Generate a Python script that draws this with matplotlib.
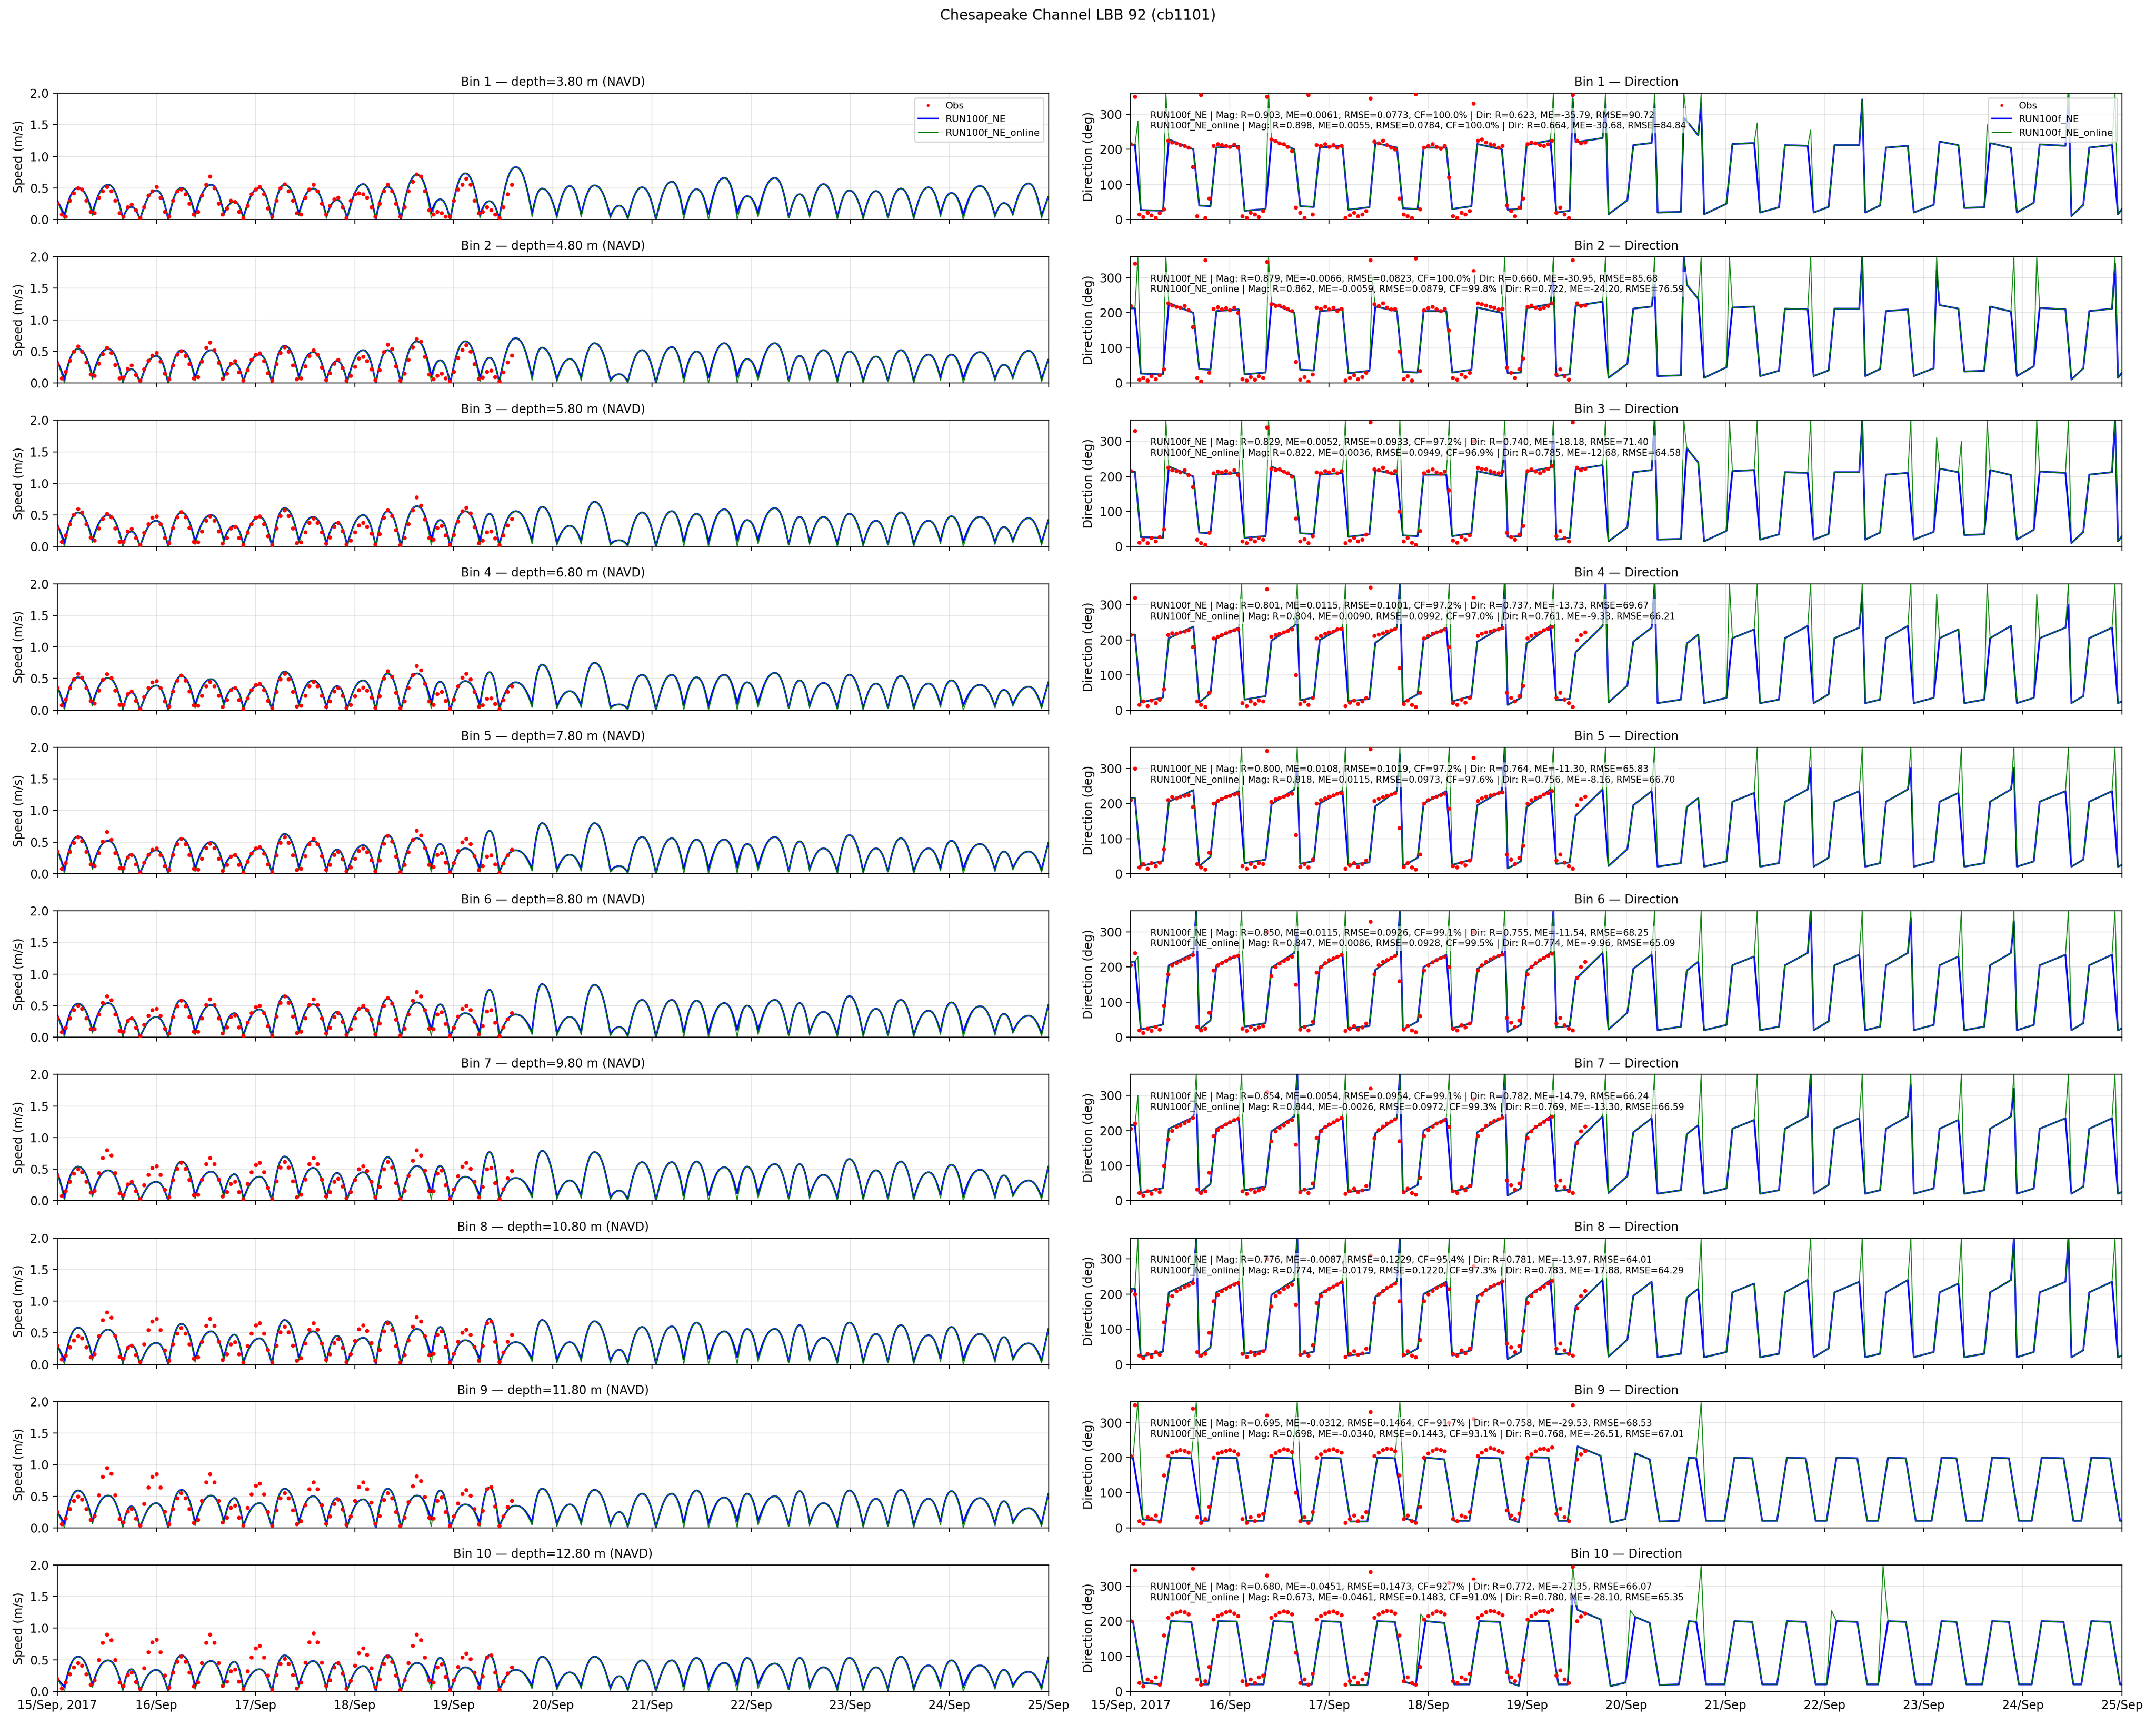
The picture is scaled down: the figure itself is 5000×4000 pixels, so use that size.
import numpy as np
import matplotlib.pyplot as plt
import matplotlib.dates as mdates
from matplotlib.path import Path
from matplotlib.patches import PathPatch
from matplotlib.lines import Line2D
from datetime import datetime

# ---------------- data ----------------
t0 = mdates.date2num(datetime(2017, 9, 15))

# slack-water times (speed minima / direction flips), days after 15 Sep 00:00
slack_day = [0.072, 0.354, 0.661, 0.834, 1.119, 1.390, 1.680, 1.877, 2.166, 2.437,
             2.715, 2.924, 3.213, 3.466, 3.773, 3.964, 4.264, 4.458, 4.790, 5.040,
             5.285, 5.580, 5.755, 6.040, 6.320, 6.570, 6.860, 7.070, 7.380, 7.590,
             7.870, 8.130, 8.380, 8.640, 8.910, 9.140, 9.460, 9.640, 9.930]
# times of the speed maxima
peak_day = [0.209, 0.513, 0.747, 1.000, 1.253, 1.552, 1.787, 2.040, 2.292, 2.581,
            2.823, 3.087, 3.332, 3.628, 3.863, 4.116, 4.361, 4.625, 4.890, 5.170,
            5.420, 5.670, 5.900, 6.200, 6.450, 6.730, 6.960, 7.240, 7.490, 7.730,
            7.990, 8.260, 8.510, 8.790, 9.020, 9.310, 9.550, 9.800]

depths = [3.80, 4.80, 5.80, 6.80, 7.80, 8.80, 9.80, 10.80, 11.80, 12.80]

# model speed peaks (m/s), one per peak_day, per bin
spd_peak = [
    [0.50, 0.55, 0.20, 0.46, 0.50, 0.55, 0.28, 0.50, 0.55, 0.49, 0.31, 0.56, 0.52, 0.71, 0.32, 0.73, 0.29,
     0.83, 0.49, 0.53, 0.54, 0.22, 0.51, 0.60, 0.48, 0.66, 0.37, 0.66, 0.40, 0.56, 0.46, 0.45, 0.49, 0.51, 0.42, 0.53, 0.26, 0.57],
    [0.54, 0.54, 0.22, 0.43, 0.52, 0.52, 0.31, 0.45, 0.59, 0.49, 0.35, 0.52, 0.52, 0.66, 0.36, 0.66, 0.40,
     0.71, 0.56, 0.38, 0.63, 0.14, 0.52, 0.57, 0.50, 0.63, 0.38, 0.63, 0.43, 0.52, 0.50, 0.42, 0.52, 0.45, 0.45, 0.49, 0.29, 0.51],
    [0.54, 0.50, 0.24, 0.41, 0.54, 0.50, 0.33, 0.47, 0.61, 0.47, 0.38, 0.50, 0.56, 0.64, 0.42, 0.56, 0.52,
     0.56, 0.63, 0.33, 0.71, 0.10, 0.54, 0.56, 0.52, 0.59, 0.42, 0.61, 0.47, 0.47, 0.52, 0.41, 0.54, 0.41, 0.48, 0.47, 0.31, 0.45],
    [0.52, 0.51, 0.28, 0.39, 0.54, 0.49, 0.35, 0.40, 0.61, 0.47, 0.38, 0.47, 0.58, 0.58, 0.45, 0.46, 0.60,
     0.44, 0.72, 0.30, 0.75, 0.09, 0.56, 0.56, 0.52, 0.56, 0.44, 0.59, 0.47, 0.43, 0.56, 0.42, 0.54, 0.42, 0.47, 0.40, 0.32, 0.37],
    [0.59, 0.52, 0.31, 0.37, 0.56, 0.50, 0.29, 0.40, 0.63, 0.52, 0.38, 0.45, 0.61, 0.56, 0.47, 0.40, 0.68,
     0.37, 0.80, 0.30, 0.80, 0.12, 0.58, 0.56, 0.54, 0.54, 0.47, 0.58, 0.51, 0.40, 0.61, 0.40, 0.56, 0.40, 0.52, 0.47, 0.35, 0.35],
    [0.53, 0.54, 0.30, 0.32, 0.59, 0.51, 0.38, 0.44, 0.66, 0.52, 0.40, 0.47, 0.61, 0.55, 0.52, 0.38, 0.75,
     0.36, 0.84, 0.32, 0.83, 0.16, 0.59, 0.59, 0.58, 0.54, 0.50, 0.59, 0.54, 0.40, 0.65, 0.45, 0.59, 0.42, 0.55, 0.49, 0.37, 0.34],
    [0.54, 0.48, 0.27, 0.30, 0.62, 0.46, 0.42, 0.38, 0.70, 0.52, 0.44, 0.45, 0.69, 0.55, 0.55, 0.38, 0.77,
     0.36, 0.79, 0.32, 0.77, 0.16, 0.61, 0.61, 0.62, 0.53, 0.54, 0.58, 0.58, 0.41, 0.66, 0.48, 0.62, 0.45, 0.57, 0.49, 0.40, 0.32],
    [0.58, 0.55, 0.30, 0.34, 0.64, 0.52, 0.47, 0.41, 0.70, 0.52, 0.45, 0.42, 0.68, 0.56, 0.59, 0.38, 0.72,
     0.35, 0.70, 0.35, 0.68, 0.23, 0.59, 0.60, 0.66, 0.52, 0.56, 0.56, 0.62, 0.42, 0.66, 0.48, 0.62, 0.46, 0.59, 0.48, 0.43, 0.33],
    [0.59, 0.51, 0.34, 0.39, 0.60, 0.51, 0.47, 0.39, 0.62, 0.50, 0.47, 0.45, 0.62, 0.51, 0.59, 0.37, 0.64,
     0.35, 0.62, 0.37, 0.60, 0.25, 0.54, 0.54, 0.59, 0.48, 0.54, 0.50, 0.58, 0.39, 0.59, 0.46, 0.60, 0.46, 0.58, 0.47, 0.42, 0.31],
    [0.55, 0.49, 0.35, 0.34, 0.57, 0.48, 0.47, 0.35, 0.57, 0.48, 0.45, 0.40, 0.57, 0.45, 0.53, 0.38, 0.57,
     0.34, 0.55, 0.30, 0.55, 0.24, 0.49, 0.49, 0.53, 0.45, 0.53, 0.44, 0.53, 0.38, 0.53, 0.38, 0.55, 0.41, 0.49, 0.41, 0.34, 0.31],
]
spd_first = [0.30, 0.35, 0.35, 0.38, 0.38, 0.35, 0.45, 0.30, 0.25, 0.20]
spd_last = [0.37, 0.38, 0.43, 0.45, 0.50, 0.52, 0.55, 0.57, 0.55, 0.55]
# speed at slack water
ne_slack_spd = [0.07, 0.11, 0.02, 0.00, 0.00, 0.08, 0.10, 0.03, 0.00, 0.10, 0.05, 0.02, 0.00, 0.00, 0.12,
                0.00, 0.08, 0.02, 0.09, 0.06, 0.08, 0.05, 0.02, 0.00, 0.07, 0.08, 0.11, 0.11, 0.03, 0.07,
                0.03, 0.03, 0.03, 0.03, 0.09, 0.08, 0.06, 0.09, 0.06]
online_slack_spd = [0.00, 0.06, 0.00, 0.00, 0.00, 0.03, 0.06, 0.00, 0.00, 0.06, 0.02, 0.00, 0.00, 0.00, 0.02,
                    0.00, 0.02, 0.00, 0.04, 0.02, 0.04, 0.02, 0.00, 0.00, 0.00, 0.00, 0.00, 0.04, 0.02, 0.04,
                    0.00, 0.00, 0.02, 0.00, 0.04, 0.00, 0.04, 0.06, 0.02]

# hourly observed speed (m/s) from 15 Sep 00:00 to 19 Sep 14:00
obs_spd = [
    [0.25, 0.08, 0.05, 0.30, 0.42, 0.50, 0.48, 0.30, 0.12, 0.10, 0.35, 0.45, 0.52, 0.45, 0.30, 0.10, 0.05, 0.20,
     0.24, 0.15, 0.03, 0.20, 0.38, 0.45, 0.52, 0.35, 0.12, 0.05, 0.30, 0.45, 0.48, 0.40, 0.25, 0.08, 0.12, 0.38,
     0.55, 0.68, 0.50, 0.25, 0.08, 0.18, 0.30, 0.28, 0.12, 0.03, 0.22, 0.40, 0.48, 0.52, 0.40, 0.18, 0.05, 0.30,
     0.50, 0.56, 0.45, 0.30, 0.10, 0.08, 0.35, 0.48, 0.55, 0.45, 0.25, 0.08, 0.22, 0.32, 0.35, 0.20, 0.03, 0.30,
     0.40, 0.42, 0.40, 0.35, 0.20, 0.05, 0.25, 0.45, 0.55, 0.45, 0.25, 0.05, 0.20, 0.45, 0.60, 0.72, 0.68, 0.45,
     0.15, 0.08, 0.12, 0.10, 0.05, 0.05, 0.30, 0.48, 0.55, 0.65, 0.55, 0.30, 0.10, 0.12, 0.20, 0.15, 0.08, 0.03,
     0.20, 0.40, 0.55],
    [0.30, 0.08, 0.18, 0.36, 0.50, 0.58, 0.50, 0.33, 0.14, 0.12, 0.31, 0.46, 0.56, 0.48, 0.29, 0.08, 0.09, 0.23,
     0.28, 0.13, 0.04, 0.22, 0.36, 0.44, 0.48, 0.34, 0.15, 0.06, 0.28, 0.45, 0.51, 0.43, 0.30, 0.08, 0.10, 0.34,
     0.56, 0.64, 0.52, 0.32, 0.07, 0.15, 0.31, 0.35, 0.17, 0.04, 0.21, 0.37, 0.45, 0.47, 0.35, 0.16, 0.04, 0.30,
     0.48, 0.57, 0.50, 0.28, 0.06, 0.08, 0.27, 0.43, 0.52, 0.45, 0.25, 0.05, 0.16, 0.31, 0.37, 0.24, 0.04, 0.12,
     0.26, 0.39, 0.42, 0.35, 0.22, 0.05, 0.21, 0.49, 0.61, 0.54, 0.27, 0.04, 0.15, 0.37, 0.57, 0.70, 0.66, 0.42,
     0.14, 0.06, 0.12, 0.15, 0.08, 0.03, 0.18, 0.40, 0.53, 0.60, 0.50, 0.30, 0.07, 0.09, 0.18, 0.20, 0.10, 0.03,
     0.17, 0.33, 0.44],
    [0.30, 0.08, 0.18, 0.36, 0.51, 0.60, 0.54, 0.36, 0.15, 0.10, 0.29, 0.44, 0.52, 0.47, 0.29, 0.08, 0.08, 0.24,
     0.28, 0.14, 0.03, 0.22, 0.36, 0.46, 0.48, 0.36, 0.14, 0.06, 0.30, 0.47, 0.55, 0.47, 0.30, 0.08, 0.07, 0.24,
     0.41, 0.48, 0.41, 0.24, 0.05, 0.14, 0.29, 0.32, 0.14, 0.03, 0.22, 0.36, 0.46, 0.48, 0.36, 0.17, 0.03, 0.29,
     0.49, 0.58, 0.49, 0.29, 0.06, 0.07, 0.23, 0.38, 0.45, 0.38, 0.23, 0.05, 0.15, 0.32, 0.38, 0.25, 0.04, 0.10,
     0.23, 0.34, 0.38, 0.32, 0.21, 0.04, 0.20, 0.46, 0.58, 0.49, 0.26, 0.03, 0.14, 0.36, 0.58, 0.78, 0.65, 0.43,
     0.14, 0.11, 0.30, 0.33, 0.18, 0.03, 0.19, 0.40, 0.56, 0.62, 0.53, 0.31, 0.06, 0.10, 0.23, 0.24, 0.13, 0.03,
     0.18, 0.34, 0.44],
    [0.35, 0.08, 0.17, 0.35, 0.49, 0.58, 0.52, 0.35, 0.15, 0.11, 0.31, 0.48, 0.57, 0.51, 0.31, 0.09, 0.09, 0.26,
     0.30, 0.15, 0.02, 0.21, 0.35, 0.44, 0.46, 0.35, 0.14, 0.06, 0.30, 0.47, 0.55, 0.47, 0.30, 0.08, 0.07, 0.23,
     0.38, 0.45, 0.38, 0.23, 0.05, 0.16, 0.32, 0.35, 0.16, 0.02, 0.19, 0.32, 0.40, 0.42, 0.32, 0.15, 0.03, 0.29,
     0.49, 0.58, 0.49, 0.29, 0.06, 0.07, 0.23, 0.38, 0.45, 0.38, 0.23, 0.05, 0.14, 0.30, 0.35, 0.23, 0.04, 0.09,
     0.22, 0.32, 0.36, 0.31, 0.20, 0.04, 0.22, 0.50, 0.62, 0.53, 0.28, 0.03, 0.14, 0.35, 0.56, 0.70, 0.63, 0.42,
     0.14, 0.09, 0.26, 0.29, 0.15, 0.02, 0.17, 0.38, 0.52, 0.58, 0.49, 0.29, 0.06, 0.08, 0.18, 0.19, 0.10, 0.02,
     0.16, 0.29, 0.38],
    [0.35, 0.08, 0.17, 0.35, 0.49, 0.58, 0.52, 0.35, 0.15, 0.12, 0.33, 0.51, 0.66, 0.54, 0.33, 0.09, 0.09, 0.26,
     0.30, 0.15, 0.02, 0.18, 0.30, 0.38, 0.40, 0.30, 0.12, 0.06, 0.30, 0.47, 0.55, 0.47, 0.30, 0.08, 0.07, 0.24,
     0.41, 0.48, 0.41, 0.24, 0.05, 0.14, 0.27, 0.30, 0.14, 0.02, 0.19, 0.32, 0.40, 0.42, 0.32, 0.15, 0.03, 0.29,
     0.49, 0.58, 0.49, 0.29, 0.06, 0.08, 0.28, 0.47, 0.55, 0.47, 0.28, 0.06, 0.14, 0.30, 0.35, 0.23, 0.04, 0.10,
     0.24, 0.36, 0.40, 0.34, 0.22, 0.04, 0.21, 0.48, 0.60, 0.51, 0.27, 0.03, 0.14, 0.34, 0.54, 0.68, 0.61, 0.41,
     0.14, 0.11, 0.30, 0.33, 0.18, 0.02, 0.17, 0.36, 0.50, 0.55, 0.47, 0.28, 0.06, 0.12, 0.27, 0.29, 0.15, 0.02,
     0.16, 0.29, 0.38],
    [0.30, 0.08, 0.15, 0.30, 0.43, 0.50, 0.45, 0.30, 0.13, 0.13, 0.36, 0.55, 0.65, 0.59, 0.36, 0.10, 0.09, 0.26,
     0.30, 0.15, 0.02, 0.20, 0.34, 0.43, 0.45, 0.34, 0.14, 0.06, 0.32, 0.49, 0.58, 0.49, 0.32, 0.09, 0.09, 0.30,
     0.51, 0.60, 0.51, 0.30, 0.06, 0.16, 0.32, 0.35, 0.16, 0.03, 0.23, 0.38, 0.48, 0.50, 0.38, 0.18, 0.03, 0.33,
     0.55, 0.65, 0.55, 0.33, 0.07, 0.09, 0.30, 0.51, 0.60, 0.51, 0.30, 0.06, 0.15, 0.32, 0.38, 0.25, 0.04, 0.13,
     0.30, 0.45, 0.50, 0.43, 0.28, 0.05, 0.22, 0.50, 0.62, 0.53, 0.28, 0.03, 0.14, 0.36, 0.58, 0.72, 0.65, 0.43,
     0.14, 0.13, 0.36, 0.40, 0.21, 0.02, 0.15, 0.33, 0.45, 0.50, 0.43, 0.25, 0.05, 0.18, 0.41, 0.43, 0.23, 0.02,
     0.16, 0.29, 0.38],
    [0.40, 0.08, 0.15, 0.30, 0.43, 0.50, 0.45, 0.30, 0.13, 0.16, 0.44, 0.68, 0.80, 0.72, 0.44, 0.12, 0.09, 0.26,
     0.30, 0.15, 0.03, 0.25, 0.41, 0.52, 0.55, 0.41, 0.17, 0.06, 0.33, 0.51, 0.60, 0.51, 0.33, 0.09, 0.10, 0.34,
     0.58, 0.68, 0.58, 0.34, 0.07, 0.14, 0.27, 0.30, 0.14, 0.03, 0.27, 0.45, 0.57, 0.60, 0.45, 0.21, 0.03, 0.31,
     0.53, 0.62, 0.53, 0.31, 0.06, 0.10, 0.34, 0.58, 0.68, 0.58, 0.34, 0.07, 0.14, 0.30, 0.35, 0.23, 0.04, 0.14,
     0.33, 0.50, 0.55, 0.47, 0.30, 0.06, 0.22, 0.50, 0.62, 0.53, 0.28, 0.03, 0.16, 0.40, 0.64, 0.80, 0.72, 0.48,
     0.16, 0.15, 0.43, 0.48, 0.25, 0.03, 0.18, 0.39, 0.54, 0.60, 0.51, 0.30, 0.06, 0.22, 0.50, 0.52, 0.28, 0.03,
     0.19, 0.36, 0.47],
    [0.30, 0.08, 0.14, 0.27, 0.38, 0.45, 0.41, 0.27, 0.11, 0.16, 0.45, 0.70, 0.82, 0.74, 0.45, 0.12, 0.09, 0.26,
     0.30, 0.15, 0.04, 0.32, 0.54, 0.68, 0.72, 0.54, 0.22, 0.06, 0.32, 0.49, 0.58, 0.49, 0.32, 0.09, 0.11, 0.36,
     0.61, 0.72, 0.61, 0.36, 0.07, 0.16, 0.32, 0.35, 0.16, 0.03, 0.29, 0.49, 0.62, 0.65, 0.49, 0.23, 0.03, 0.30,
     0.51, 0.60, 0.51, 0.30, 0.06, 0.10, 0.33, 0.55, 0.65, 0.55, 0.33, 0.07, 0.16, 0.34, 0.40, 0.26, 0.04, 0.16,
     0.37, 0.56, 0.62, 0.53, 0.34, 0.06, 0.23, 0.52, 0.65, 0.55, 0.29, 0.03, 0.15, 0.38, 0.60, 0.75, 0.68, 0.45,
     0.15, 0.17, 0.47, 0.52, 0.28, 0.03, 0.17, 0.36, 0.50, 0.55, 0.47, 0.28, 0.06, 0.29, 0.65, 0.68, 0.36, 0.04,
     0.19, 0.36, 0.47],
    [0.25, 0.06, 0.15, 0.30, 0.43, 0.50, 0.45, 0.30, 0.13, 0.19, 0.52, 0.81, 0.95, 0.86, 0.52, 0.14, 0.09, 0.26,
     0.30, 0.15, 0.04, 0.38, 0.64, 0.81, 0.85, 0.64, 0.26, 0.06, 0.30, 0.47, 0.55, 0.47, 0.30, 0.08, 0.13, 0.43,
     0.72, 0.85, 0.72, 0.43, 0.09, 0.16, 0.32, 0.35, 0.16, 0.04, 0.32, 0.53, 0.67, 0.70, 0.53, 0.25, 0.03, 0.28,
     0.47, 0.55, 0.47, 0.28, 0.06, 0.11, 0.36, 0.61, 0.72, 0.61, 0.36, 0.07, 0.18, 0.38, 0.45, 0.29, 0.05, 0.18,
     0.43, 0.65, 0.72, 0.61, 0.40, 0.07, 0.19, 0.44, 0.55, 0.47, 0.25, 0.03, 0.16, 0.41, 0.66, 0.82, 0.74, 0.49,
     0.16, 0.15, 0.43, 0.48, 0.25, 0.03, 0.18, 0.39, 0.54, 0.60, 0.51, 0.30, 0.06, 0.27, 0.61, 0.65, 0.34, 0.03,
     0.18, 0.33, 0.43],
    [0.20, 0.05, 0.14, 0.27, 0.38, 0.45, 0.41, 0.27, 0.11, 0.18, 0.50, 0.77, 0.90, 0.81, 0.50, 0.14, 0.09, 0.26,
     0.30, 0.15, 0.04, 0.37, 0.62, 0.78, 0.82, 0.62, 0.25, 0.06, 0.30, 0.47, 0.55, 0.47, 0.30, 0.08, 0.14, 0.45,
     0.77, 0.90, 0.77, 0.45, 0.09, 0.16, 0.32, 0.35, 0.16, 0.04, 0.32, 0.54, 0.68, 0.72, 0.54, 0.25, 0.03, 0.26,
     0.44, 0.52, 0.44, 0.26, 0.05, 0.14, 0.46, 0.78, 0.92, 0.78, 0.46, 0.09, 0.18, 0.38, 0.45, 0.29, 0.05, 0.17,
     0.41, 0.61, 0.68, 0.58, 0.37, 0.07, 0.19, 0.44, 0.55, 0.47, 0.25, 0.03, 0.18, 0.45, 0.72, 0.90, 0.81, 0.54,
     0.18, 0.14, 0.38, 0.43, 0.23, 0.02, 0.18, 0.39, 0.54, 0.60, 0.51, 0.30, 0.06, 0.24, 0.54, 0.57, 0.30, 0.03,
     0.16, 0.29, 0.38],
]

# hourly observed direction (deg)
obs_dir = [
    [215, 350, 15, 8, 20, 12, 5, 18, 30, 225, 220, 218, 212, 210, 205, 150, 10, 355, 5, 60,
     210, 215, 212, 210, 208, 214, 205, 10, 5, 20, 15, 8, 25, 350, 228, 224, 218, 215, 208, 195,
     35, 20, 5, 355, 15, 212, 210, 215, 208, 212, 205, 210, 5, 12, 20, 10, 15, 25, 345, 222,
     218, 225, 212, 205, 200, 60, 15, 10, 5, 358, 30, 205, 210, 215, 208, 203, 210, 120, 10, 5,
     20, 15, 25, 330, 225, 228, 220, 215, 212, 205, 210, 40, 25, 10, 35, 60, 215, 220, 218, 212,
     210, 215, 225, 20, 35, 15, 5, 355, 225, 218, 220],
    [220, 340, 10, 15, 8, 20, 12, 22, 40, 228, 222, 218, 215, 220, 208, 160, 15, 5, 350, 30,
     212, 216, 210, 214, 208, 215, 200, 12, 8, 18, 10, 20, 15, 345, 225, 220, 222, 216, 212, 205,
     60, 10, 18, 5, 25, 215, 212, 218, 210, 215, 205, 212, 8, 15, 22, 12, 18, 30, 350, 225,
     220, 228, 215, 210, 212, 90, 12, 20, 8, 355, 35, 208, 214, 218, 210, 205, 212, 150, 15, 10,
     25, 18, 30, 320, 228, 225, 222, 218, 215, 210, 212, 45, 30, 15, 40, 70, 218, 222, 215, 212,
     215, 220, 228, 25, 40, 20, 10, 350, 228, 220, 222],
    [215, 330, 12, 20, 10, 25, 15, 28, 50, 225, 218, 215, 212, 218, 205, 170, 20, 10, 5, 40,
     210, 214, 212, 216, 210, 218, 205, 15, 10, 22, 15, 25, 20, 340, 222, 218, 220, 214, 210, 200,
     80, 15, 22, 10, 30, 212, 210, 216, 212, 218, 210, 215, 10, 18, 25, 15, 20, 35, 355, 220,
     218, 225, 214, 210, 215, 100, 15, 25, 12, 5, 45, 210, 215, 220, 212, 208, 214, 160, 18, 12,
     28, 20, 32, 300, 225, 222, 220, 216, 212, 210, 214, 40, 28, 20, 35, 60, 215, 220, 214, 210,
     216, 222, 230, 30, 45, 25, 15, 355, 225, 218, 222],
    [215, 320, 15, 25, 12, 28, 20, 30, 60, 215, 220, 218, 222, 225, 228, 180, 25, 15, 10, 50,
     205, 210, 215, 220, 225, 228, 230, 20, 12, 25, 18, 28, 25, 345, 210, 215, 218, 222, 226, 230,
     100, 18, 25, 15, 35, 205, 212, 218, 222, 225, 230, 232, 12, 22, 28, 18, 25, 35, 350, 212,
     216, 220, 224, 228, 232, 120, 18, 28, 15, 10, 50, 205, 212, 218, 222, 226, 230, 180, 20, 15,
     30, 22, 35, 320, 212, 218, 222, 225, 228, 230, 234, 50, 35, 25, 40, 70, 205, 212, 218, 222,
     228, 232, 238, 35, 50, 30, 20, 10, 200, 215, 222],
    [210, 300, 18, 28, 15, 30, 22, 32, 70, 210, 218, 215, 220, 222, 225, 190, 28, 18, 12, 60,
     200, 208, 214, 218, 222, 226, 228, 22, 15, 28, 20, 30, 28, 350, 205, 212, 216, 220, 225, 228,
     110, 20, 28, 18, 40, 200, 210, 215, 220, 224, 228, 230, 15, 25, 30, 20, 28, 38, 355, 208,
     214, 218, 222, 226, 230, 130, 20, 30, 18, 12, 55, 200, 210, 216, 220, 225, 228, 185, 22, 18,
     32, 25, 38, 330, 208, 215, 220, 224, 226, 230, 232, 55, 40, 28, 45, 80, 200, 210, 216, 220,
     226, 230, 236, 38, 55, 32, 22, 15, 195, 212, 220],
    [205, 240, 20, 12, 25, 18, 30, 22, 90, 180, 205, 212, 218, 222, 228, 235, 30, 20, 25, 70,
     190, 205, 212, 218, 225, 230, 232, 25, 18, 30, 22, 28, 32, 300, 175, 200, 210, 218, 224, 230,
     150, 22, 30, 20, 45, 185, 200, 212, 220, 225, 230, 235, 18, 25, 32, 22, 28, 40, 330, 180,
     205, 215, 220, 226, 232, 160, 22, 32, 20, 15, 60, 190, 205, 214, 220, 226, 230, 200, 25, 20,
     35, 28, 40, 300, 190, 205, 215, 222, 228, 232, 236, 55, 42, 30, 48, 85, 180, 200, 212, 220,
     226, 232, 238, 40, 55, 35, 25, 20, 170, 200, 215],
    [205, 220, 22, 15, 28, 20, 32, 25, 100, 175, 200, 210, 216, 222, 228, 236, 32, 22, 28, 80,
     185, 202, 210, 218, 224, 230, 234, 28, 20, 32, 25, 30, 35, 310, 170, 198, 208, 216, 224, 230,
     160, 25, 32, 22, 50, 180, 198, 210, 218, 224, 230, 236, 20, 28, 35, 25, 30, 42, 320, 178,
     202, 212, 220, 226, 232, 170, 25, 35, 22, 18, 65, 185, 202, 212, 220, 225, 230, 210, 28, 22,
     38, 30, 42, 290, 185, 202, 214, 222, 228, 232, 238, 58, 45, 32, 50, 90, 178, 198, 210, 218,
     225, 232, 240, 42, 58, 38, 28, 22, 165, 198, 212],
    [210, 200, 25, 18, 30, 22, 35, 28, 120, 170, 195, 208, 215, 220, 226, 232, 35, 25, 30, 90,
     180, 198, 208, 216, 222, 228, 232, 30, 22, 35, 28, 32, 38, 300, 165, 195, 205, 214, 222, 228,
     170, 28, 35, 25, 55, 175, 195, 208, 216, 222, 228, 234, 22, 30, 38, 28, 32, 45, 310, 175,
     200, 210, 218, 224, 230, 180, 28, 38, 25, 20, 70, 180, 200, 210, 218, 224, 228, 215, 30, 25,
     40, 32, 45, 280, 180, 200, 212, 220, 226, 230, 236, 60, 48, 35, 52, 95, 175, 195, 208, 216,
     222, 230, 238, 45, 60, 40, 30, 25, 160, 195, 210],
    [205, 350, 20, 12, 30, 25, 35, 18, 150, 205, 215, 218, 222, 220, 215, 340, 30, 15, 25, 60,
     200, 212, 216, 220, 222, 218, 210, 25, 15, 30, 20, 35, 40, 320, 205, 214, 220, 224, 222, 216,
     100, 20, 30, 15, 45, 200, 210, 218, 222, 225, 220, 215, 15, 25, 35, 20, 30, 45, 330, 205,
     215, 222, 226, 224, 218, 150, 25, 35, 20, 15, 60, 200, 212, 220, 224, 222, 218, 300, 25, 20,
     35, 30, 45, 310, 205, 215, 222, 228, 225, 220, 215, 50, 35, 25, 40, 80, 200, 210, 218, 224,
     226, 222, 230, 40, 55, 30, 20, 350, 195, 210, 218],
    [200, 345, 25, 15, 35, 28, 40, 20, 160, 210, 220, 225, 228, 226, 220, 350, 35, 20, 30, 70,
     205, 215, 220, 226, 228, 222, 215, 30, 20, 35, 25, 40, 45, 330, 210, 218, 225, 228, 226, 220,
     110, 25, 35, 20, 50, 205, 215, 222, 226, 228, 224, 218, 20, 30, 40, 25, 35, 50, 340, 210,
     220, 226, 230, 228, 222, 160, 30, 40, 25, 20, 70, 205, 215, 222, 228, 226, 220, 310, 30, 25,
     40, 35, 50, 320, 210, 218, 226, 230, 228, 224, 218, 55, 40, 30, 45, 90, 205, 215, 222, 228,
     230, 226, 232, 45, 60, 35, 25, 355, 200, 214, 222],
]

# model direction plateaus: level at the start / end of each tidal phase (40 phases)
dir_group = [0, 0, 0, 1, 1, 1, 1, 1, 2, 2]
dir_open = [
    [213, 27, 228, 40, 205, 25, 228, 38, 205, 28, 218, 32, 205, 30, 215, 28, 213, 20, 220, 15,
     212, 20, 280, 15, 215, 20, 212, 20, 212, 20, 205, 20, 222, 33, 218, 20, 214, 10, 205, 15],
    [215, 22, 205, 22, 205, 30, 198, 28, 200, 25, 192, 22, 200, 25, 195, 15, 190, 28, 165, 22,
     195, 20, 190, 20, 205, 20, 205, 20, 205, 20, 205, 20, 205, 20, 205, 20, 205, 20, 205, 20],
    [200, 24, 200, 20, 200, 20, 200, 20, 200, 18, 200, 27, 200, 20, 200, 25, 201, 20, 232, 15,
     212, 18, 200, 20, 200, 20, 200, 20, 200, 20, 200, 20, 200, 20, 200, 20, 200, 20, 200, 20],
]
dir_close = [
    [213, 25, 200, 38, 210, 30, 200, 36, 210, 35, 205, 30, 205, 38, 200, 30, 225, 25, 232, 55,
     218, 22, 240, 45, 218, 35, 210, 36, 212, 40, 210, 42, 212, 35, 204, 48, 210, 42, 212, 30],
    [215, 36, 238, 48, 235, 40, 240, 36, 236, 32, 236, 45, 235, 40, 236, 35, 240, 32, 240, 70,
     235, 30, 215, 35, 230, 30, 240, 45, 235, 30, 240, 35, 230, 30, 240, 35, 235, 40, 235, 25],
    [200, 20, 198, 20, 199, 20, 198, 20, 198, 18, 198, 18, 195, 20, 198, 16, 200, 20, 205, 25,
     195, 20, 198, 20, 198, 20, 198, 20, 198, 20, 198, 20, 198, 20, 198, 20, 198, 20, 198, 20],
]
dir_ramp = [0.03, 0.03, 0.05]   # half-width of a flip, days

# wrap-around spikes at slack water: (slack index, top in deg)
ne_spikes = [
    [(17, 345), (18, 330), (20, 330), (21, 290), (22, 330), (28, 342), (36, 360)],
    [(16, 300), (20, 280), (21, 360), (28, 360), (31, 320), (38, 340)],
    [(14, 300), (16, 330), (20, 360), (28, 360), (38, 360)],
    [(6, 260), (10, 360), (14, 360), (18, 360), (20, 360), (28, 330), (36, 300)],
    [(6, 300), (10, 340), (14, 360), (26, 300), (30, 300), (34, 300)],
    [(2, 360), (6, 300), (10, 360), (14, 300), (16, 360), (26, 360), (30, 340), (34, 330)],
    [(2, 300), (6, 360), (10, 360), (14, 360), (26, 360), (30, 330), (34, 320)],
    [(2, 360), (6, 360), (10, 360), (34, 360), (36, 360)],
    [],
    [(17, 275)],
]
online_spikes = [
    [(0, 280), (1, 360), (5, 360), (16, 360), (17, 345), (18, 360), (20, 360), (21, 360), (22, 360),
     (24, 275), (26, 255), (28, 340), (33, 270), (36, 360), (38, 360)],
    [(0, 360), (1, 360), (5, 360), (9, 300), (14, 360), (16, 360), (18, 360), (20, 360), (21, 360),
     (22, 360), (23, 360), (26, 360), (28, 360), (31, 360), (34, 360), (35, 360), (38, 360)],
    [(1, 360), (4, 360), (5, 360), (8, 360), (10, 360), (12, 360), (14, 360), (16, 360), (18, 360),
     (20, 360), (21, 360), (23, 360), (24, 360), (26, 360), (28, 360), (30, 360), (31, 310), (32, 300),
     (33, 360), (35, 360), (36, 360), (38, 360)],
    [(4, 360), (6, 360), (8, 360), (10, 360), (12, 360), (14, 360), (16, 360), (18, 360), (20, 360),
     (23, 360), (24, 360), (26, 360), (28, 360), (30, 360), (31, 330), (33, 360), (35, 330), (36, 360), (38, 360)],
    [(4, 360), (6, 360), (8, 360), (10, 360), (12, 360), (14, 360), (16, 360), (18, 360), (20, 360),
     (24, 360), (26, 360), (28, 360), (30, 360), (32, 360), (34, 360), (36, 360), (38, 360)],
    [(0, 230), (2, 360), (4, 360), (6, 360), (8, 360), (10, 360), (12, 360), (14, 360), (16, 360), (18, 360),
     (20, 360), (22, 360), (24, 360), (26, 360), (28, 360), (30, 360), (32, 360), (34, 360), (36, 360), (38, 360)],
    [(0, 300), (2, 360), (4, 360), (6, 360), (8, 360), (10, 360), (12, 360), (14, 360), (16, 360), (18, 360),
     (20, 360), (22, 360), (24, 360), (26, 360), (28, 360), (30, 360), (32, 360), (34, 360), (36, 360), (38, 360)],
    [(0, 360), (2, 360), (4, 360), (6, 360), (8, 360), (10, 360), (12, 360), (14, 360), (16, 300), (18, 360),
     (22, 360), (26, 360), (28, 360), (30, 360), (32, 360), (34, 360), (36, 360), (38, 360)],
    [(0, 360), (2, 360), (6, 360), (10, 360), (22, 360)],
    [(11, 220), (17, 360), (19, 230), (22, 360), (27, 230), (29, 360)],
]

# skill scores: R, ME, RMSE, CF(%) for speed, R, ME, RMSE for direction
ne_stats = [
    (0.903, 0.0061, 0.0773, 100.0, 0.623, -35.79, 90.72),
    (0.879, -0.0066, 0.0823, 100.0, 0.660, -30.95, 85.68),
    (0.829, 0.0052, 0.0933, 97.2, 0.740, -18.18, 71.40),
    (0.801, 0.0115, 0.1001, 97.2, 0.737, -13.73, 69.67),
    (0.800, 0.0108, 0.1019, 97.2, 0.764, -11.30, 65.83),
    (0.850, 0.0115, 0.0926, 99.1, 0.755, -11.54, 68.25),
    (0.854, 0.0054, 0.0954, 99.1, 0.782, -14.79, 66.24),
    (0.776, -0.0087, 0.1229, 95.4, 0.781, -13.97, 64.01),
    (0.695, -0.0312, 0.1464, 91.7, 0.758, -29.53, 68.53),
    (0.680, -0.0451, 0.1473, 92.7, 0.772, -27.35, 66.07),
]
online_stats = [
    (0.898, 0.0055, 0.0784, 100.0, 0.664, -30.68, 84.84),
    (0.862, -0.0059, 0.0879, 99.8, 0.722, -24.20, 76.59),
    (0.822, 0.0036, 0.0949, 96.9, 0.785, -12.68, 64.58),
    (0.804, 0.0090, 0.0992, 97.0, 0.761, -9.33, 66.21),
    (0.818, 0.0115, 0.0973, 97.6, 0.756, -8.16, 66.70),
    (0.847, 0.0086, 0.0928, 99.5, 0.774, -9.96, 65.09),
    (0.844, -0.0026, 0.0972, 99.3, 0.769, -13.30, 66.59),
    (0.774, -0.0179, 0.1220, 97.3, 0.783, -17.88, 64.29),
    (0.698, -0.0340, 0.1443, 93.1, 0.768, -26.51, 67.01),
    (0.673, -0.0461, 0.1483, 91.0, 0.780, -28.10, 65.35),
]

day_labels = ['15/Sep, 2017', '16/Sep', '17/Sep', '18/Sep', '19/Sep', '20/Sep',
              '21/Sep', '22/Sep', '23/Sep', '24/Sep', '25/Sep']


# ---------------- helpers ----------------
def speed_path(peaks, slack_vals, first, last):
    # cusp at slack water, rounded top at each maximum (cubic Bezier segments)
    verts = [(t0, first), (t0 + slack_day[0], slack_vals[0])]
    codes = [Path.MOVETO, Path.LINETO]
    for i in range(len(peak_day)):
        ts, vs = slack_day[i], slack_vals[i]
        tp, vp = peak_day[i], peaks[i]
        te, ve = slack_day[i + 1], slack_vals[i + 1]
        d1, d2 = tp - ts, te - tp
        verts += [(t0 + ts + 0.3 * d1, vs + 0.55 * (vp - vs)), (t0 + tp - 0.45 * d1, vp), (t0 + tp, vp),
                  (t0 + tp + 0.45 * d2, vp), (t0 + te - 0.3 * d2, ve + 0.55 * (vp - ve)), (t0 + te, ve)]
        codes += [Path.CURVE4] * 6
    verts.append((t0 + 10.0, last))
    codes.append(Path.LINETO)
    return Path(verts, codes)


def direction_line(opens, closes, spikes, ramp):
    tops = dict(spikes)
    edges = [0.0] + slack_day + [10.0]
    t, v = [], []
    for b in range(len(edges) - 1):
        a = edges[b] + (ramp if b > 0 else 0.0)
        z = edges[b + 1] - (ramp if b < len(edges) - 2 else 0.0)
        if b > 0 and (b - 1) in tops:
            t.append(edges[b])
            v.append(tops[b - 1])
        t += [a, z]
        v += [opens[b], closes[b]]
    return t0 + np.array(t), v


def stat_line(name, s):
    return (f"{name} | Mag: R={s[0]:.3f}, ME={s[1]:.4f}, RMSE={s[2]:.4f}, CF={s[3]:.1f}% | "
            f"Dir: R={s[4]:.3f}, ME={s[5]:.2f}, RMSE={s[6]:.2f}")


# ---------------- figure ----------------
fig, axes = plt.subplots(10, 2, figsize=(25, 20), dpi=200, sharex=True,
                         gridspec_kw=dict(left=0.0266, right=0.9842, top=0.946, bottom=0.0195,
                                          hspace=0.294, wspace=0.083))
fig.suptitle('Chesapeake Channel LBB 92 (cb1101)', fontsize=12, y=0.995)

obs_kw = dict(linestyle='none', marker='o', color='red', markersize=3.4, markeredgewidth=0, zorder=3)
ne_kw = dict(color='blue', linewidth=1.5)
on_kw = dict(color='green', linewidth=0.8, alpha=0.9)

handles = [Line2D([], [], linestyle='none', marker='o', color='red', markersize=2.4, markeredgewidth=0),
           Line2D([], [], **ne_kw), Line2D([], [], **on_kw)]
names = ['Obs', 'RUN100f_NE', 'RUN100f_NE_online']

for b in range(10):
    axs, axd = axes[b, 0], axes[b, 1]

    # speed
    xo = t0 + np.arange(len(obs_spd[b])) / 24.0
    axs.plot(xo, obs_spd[b], **obs_kw)
    axs.add_patch(PathPatch(speed_path(spd_peak[b], ne_slack_spd, spd_first[b], spd_last[b]),
                            facecolor='none', edgecolor='blue', linewidth=1.5, zorder=2))
    axs.add_patch(PathPatch(speed_path(spd_peak[b], online_slack_spd, spd_first[b], spd_last[b]),
                            facecolor='none', edgecolor='green', linewidth=0.8, alpha=0.9, zorder=2.1))
    axs.set_ylim(0, 2)
    axs.set_yticks([0.0, 0.5, 1.0, 1.5, 2.0])
    axs.set_ylabel('Speed (m/s)')
    axs.set_title(f'Bin {b + 1} \u2014 depth={depths[b]:.2f} m (NAVD)', fontsize=10)
    axs.grid(True, alpha=0.3)

    # direction
    g = dir_group[b]
    xo = t0 + np.arange(len(obs_dir[b])) / 24.0
    axd.plot(xo, obs_dir[b], **obs_kw)
    x, y = direction_line(dir_open[g], dir_close[g], ne_spikes[b], dir_ramp[g])
    axd.plot(x, y, zorder=2, **ne_kw)
    x, y = direction_line(dir_open[g], dir_close[g], online_spikes[b], dir_ramp[g])
    axd.plot(x, y, zorder=2.1, **on_kw)
    axd.set_ylim(0, 360)
    axd.set_yticks([0, 100, 200, 300])
    axd.set_ylabel('Direction (deg)')
    axd.set_title(f'Bin {b + 1} \u2014 Direction', fontsize=10)
    axd.grid(True, alpha=0.3)
    txt = stat_line('RUN100f_NE', ne_stats[b]) + '\n' + stat_line('RUN100f_NE_online', online_stats[b])
    axd.text(0.02, 0.86, txt, transform=axd.transAxes, va='top', ha='left', fontsize=7.5, zorder=4,
             bbox=dict(facecolor='white', alpha=0.6, edgecolor='none', pad=2))

    if b == 0:
        axs.legend(handles, names, loc='upper right', fontsize=8)
        axd.legend(handles, names, loc='upper right', fontsize=8)

ticks = t0 + np.arange(11)
for ax in axes[-1]:
    ax.set_xlim(t0, t0 + 10)
    ax.set_xticks(ticks)
    ax.set_xticklabels(day_labels)

fig.savefig('out.png', dpi=200)
